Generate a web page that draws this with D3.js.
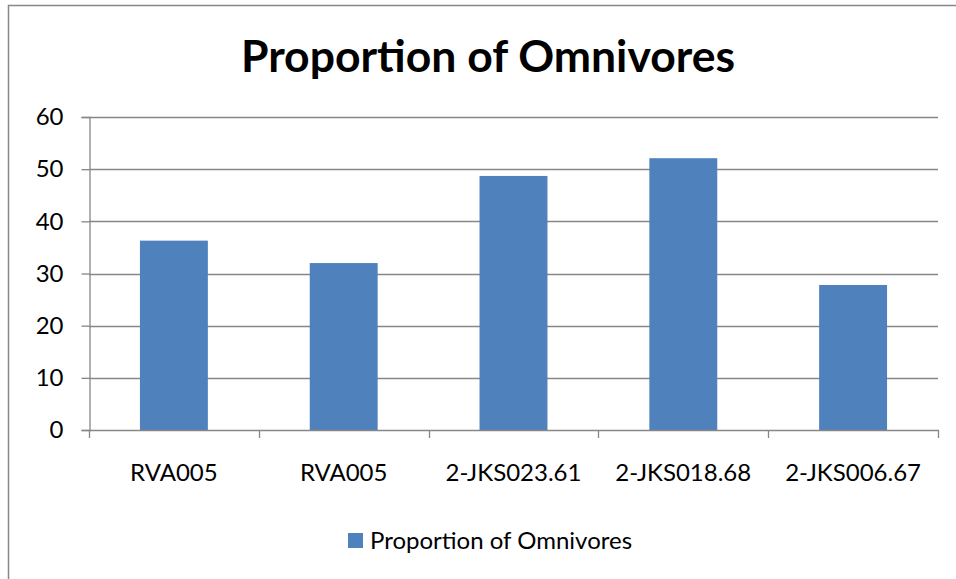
<!DOCTYPE html>
<html>
<head>
<meta charset="utf-8">
<script src="https://cdn.jsdelivr.net/npm/d3@7"></script>
<style>
  html, body { margin: 0; padding: 0; background: #fff; }
  svg { display: block; }
  text { font-family: Lato, "Open Sans", sans-serif; fill: #000; }
</style>
</head>
<body>
<svg id="chart" width="956" height="579"></svg>
<script>
// Sites sampled and the share of omnivores found at each
const categories = ["RVA005", "RVA005", "2-JKS023.61", "2-JKS018.68", "2-JKS006.67"];
const omnivores = [36.3, 32.0, 48.7, 52.1, 27.8];
const yTicks = [0, 10, 20, 30, 40, 50, 60];
const seriesName = "Proportion of Omnivores";
const title = "Proportion of Omnivores";

const svg = d3.select("#chart");
const plot = { left: 89, right: 938, top: 117, bottom: 430 };
const grey = "#878787";
const barColor = "#4F81BD";

// outer chart frame (runs past the right and bottom edges)
svg.append("rect")
  .attr("x", 8.5).attr("y", 5.5)
  .attr("width", 1000).attr("height", 1000)
  .attr("fill", "none").attr("stroke", grey).attr("stroke-width", 1.5);

svg.append("text")
  .attr("x", 488).attr("y", 72)
  .attr("text-anchor", "middle")
  .style("font-size", "44.5px").style("font-weight", "bold")
  .text(title);

const x = d3.scaleBand()
  .domain(d3.range(categories.length))
  .range([plot.left, plot.right])
  .padding(0);

const y = d3.scaleLinear()
  .domain([0, 60])
  .range([plot.bottom, plot.top]);

// horizontal gridlines
svg.append("g")
  .selectAll("line")
  .data(yTicks.filter(d => d > 0))
  .join("line")
  .attr("x1", plot.left).attr("x2", plot.right)
  .attr("y1", d => Math.round(y(d)) + 0.5).attr("y2", d => Math.round(y(d)) + 0.5)
  .attr("stroke", grey).attr("stroke-width", 1.3);

// bars, 40% of each category slot, centred
const barW = x.bandwidth() * 0.4;
svg.append("g")
  .selectAll("rect")
  .data(omnivores)
  .join("rect")
  .attr("x", (d, i) => x(i) + (x.bandwidth() - barW) / 2)
  .attr("y", d => y(d))
  .attr("width", barW)
  .attr("height", d => y(0) - y(d))
  .attr("fill", barColor);

// y axis
const yAxis = d3.axisLeft(y)
  .tickValues(yTicks)
  .tickSize(8)
  .tickPadding(18)
  .tickFormat(d3.format("d"));
const gy = svg.append("g")
  .attr("transform", `translate(${plot.left + 0.5},0)`)
  .call(yAxis);
gy.select(".domain").attr("stroke", grey).attr("stroke-width", 1.3);
gy.selectAll(".tick line").attr("stroke", grey).attr("stroke-width", 1.3);
gy.selectAll(".tick text")
  .style("font-size", "24px").style("font-family", "Lato, sans-serif").attr("fill", "#000");

// x axis: ticks at category boundaries, labels at centres
const xLine = svg.append("g");
xLine.append("line")
  .attr("x1", plot.left).attr("x2", plot.right + 1)
  .attr("y1", plot.bottom + 0.5).attr("y2", plot.bottom + 0.5)
  .attr("stroke", grey).attr("stroke-width", 1.3);
const bounds = d3.range(categories.length + 1).map(i =>
  i < categories.length ? x(i) : x(categories.length - 1) + x.bandwidth());
xLine.selectAll(".b")
  .data(bounds)
  .join("line")
  .attr("class", "b")
  .attr("x1", d => Math.round(d) + 0.5).attr("x2", d => Math.round(d) + 0.5)
  .attr("y1", plot.bottom).attr("y2", plot.bottom + 8)
  .attr("stroke", grey).attr("stroke-width", 1.3);
svg.append("g")
  .selectAll("text")
  .data(categories)
  .join("text")
  .attr("x", (d, i) => x(i) + x.bandwidth() / 2)
  .attr("y", 481)
  .attr("text-anchor", "middle")
  .style("font-size", "24px")
  .text(d => d);

// legend
const lg = svg.append("g");
lg.append("rect")
  .attr("x", 348).attr("y", 533)
  .attr("width", 15).attr("height", 15)
  .attr("fill", barColor);
lg.append("text")
  .attr("x", 370).attr("y", 549)
  .style("font-size", "24px")
  .text(seriesName);
</script>
</body>
</html>
